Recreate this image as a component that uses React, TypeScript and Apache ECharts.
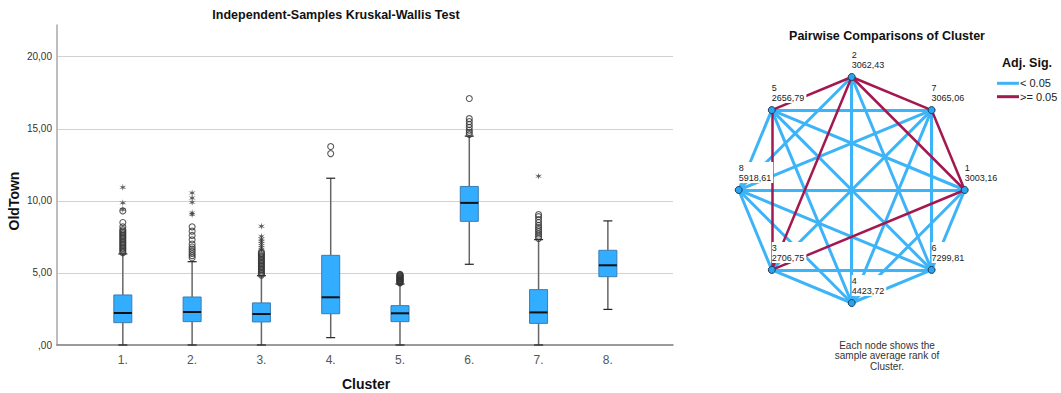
import React, { useEffect, useRef } from "react";
import * as echarts from "echarts";

// ---------- Left chart data (Independent-Samples Kruskal-Wallis Test) ----------
const clusters = ["1", "2", "3", "4", "5", "6", "7", "8"];
const boxMin = [0, 0, 0, 0.51, 0, 5.6, 0, 2.47];
const boxQ1 = [1.55, 1.62, 1.6, 2.17, 1.62, 8.58, 1.5, 4.74];
const boxMedian = [2.22, 2.29, 2.15, 3.31, 2.2, 9.86, 2.26, 5.53];
const boxQ3 = [3.47, 3.33, 2.92, 6.22, 2.73, 11.0, 3.84, 6.57];
const boxMax = [6.32, 5.78, 4.81, 11.57, 4.23, 14.49, 7.31, 8.61];

// outliers (circles) per cluster
const circleOutliers: number[][] = [
  [6.4, 6.5, 6.6, 6.7, 6.8, 6.9, 7.0, 7.1, 7.2, 7.3, 7.4, 7.5, 7.6, 7.7, 7.8, 7.9, 8.0, 8.2, 8.5, 9.3],
  [6.05, 6.2, 6.35, 6.5, 6.65, 6.8, 7.0, 7.3, 7.6, 7.9, 8.2],
  [4.85, 4.95, 5.05, 5.15, 5.25, 5.35, 5.45, 5.55, 5.65, 5.75, 5.85, 5.95, 6.05, 6.15, 6.25, 6.35, 6.45],
  [13.28, 13.77],
  [4.3, 4.34, 4.38, 4.42, 4.46, 4.5, 4.54, 4.58, 4.62, 4.66, 4.7, 4.74, 4.78, 4.82, 4.86, 4.9],
  [14.6, 14.75, 14.9, 15.1, 15.3, 15.5, 15.7, 17.1],
  [7.4, 7.55, 7.7, 7.85, 8.0, 8.15, 8.3, 8.5, 8.7, 8.9, 9.05],
  [],
];
// extreme outliers (stars) per cluster
const starOutliers: number[][] = [
  [9.4, 9.86, 10.94],
  [9.05, 9.17, 9.9, 10.2, 10.55],
  [6.6, 6.75, 6.9, 7.05, 7.2, 7.35, 7.54, 8.24],
  [],
  [],
  [],
  [11.71],
  [],
];
const yTicks = [0, 5, 10, 15, 20];

// ---------- Right chart data (Pairwise Comparisons of Cluster) ----------
const nodeOrder = ["2", "7", "1", "6", "4", "3", "8", "5"]; // clockwise from top
const nodeNames = ["1", "2", "3", "4", "5", "6", "7", "8"];
const averageRanks = [3003.16, 3062.43, 2706.75, 4423.72, 2656.79, 7299.81, 3065.06, 5918.61];
const nonSignificantPairs: [string, string][] = [
  ["2", "5"],
  ["2", "7"],
  ["2", "1"],
  ["2", "3"],
  ["7", "1"],
  ["5", "3"],
  ["1", "3"],
];

const FONT = "'Liberation Sans', Arial, sans-serif";
const BOX_FILL = "#33adff";
const BOX_BORDER = "#3b7cb0";
const BLUE = "#3db3f8";
const RED = "#a3184f";

const fmtComma = (v: number) => v.toFixed(2).replace(".", ",");
const fmtTick = (v: number) => fmtComma(v).replace(/^0,/, ",");

const STAR_PATH =
  "path://M5,0 L5.75,3.7 L9.33,2.5 L6.5,5 L9.33,7.5 L5.75,6.3 L5,10 L4.25,6.3 L0.67,7.5 L3.5,5 L0.67,2.5 L4.25,3.7 Z";

export default function App() {
  const ref = useRef<HTMLDivElement>(null);

  useEffect(() => {
    if (!ref.current) return;
    const chart = echarts.init(ref.current, undefined, { renderer: "svg" });

    const boxData = clusters.map((c, i) => [i + 1, boxMin[i], boxQ1[i], boxMedian[i], boxQ3[i], boxMax[i]]);
    const circleData: number[][] = [];
    circleOutliers.forEach((arr, i) => arr.forEach((v) => circleData.push([i + 1, v])));
    const starData: number[][] = [];
    starOutliers.forEach((arr, i) => arr.forEach((v) => starData.push([i + 1, v])));

    const isNonSig = (a: string, b: string) =>
      nonSignificantPairs.some(([p, q]) => (p === a && q === b) || (p === b && q === a));
    const blueLinks: any[] = [];
    const redLinks: any[] = [];
    for (let i = 0; i < nodeNames.length; i++) {
      for (let j = i + 1; j < nodeNames.length; j++) {
        const a = nodeNames[i];
        const b = nodeNames[j];
        if (isNonSig(a, b)) {
          redLinks.push({ source: a, target: b, lineStyle: { color: RED, width: 2.5 } });
        } else {
          blueLinks.push({ source: a, target: b, lineStyle: { color: BLUE, width: 3 } });
        }
      }
    }
    const nodes = nodeNames.map((n, i) => ({
      name: n,
      value: [1, nodeOrder.indexOf(n)],
      rank: averageRanks[i],
    }));

    const option: any = {
      animation: false,
      textStyle: { fontFamily: FONT },
      grid: { left: 57, right: 388, top: 25, bottom: 48, containLabel: false },
      xAxis: {
        type: "value",
        min: 0.05,
        max: 8.94,
        axisLine: { show: true, lineStyle: { color: "#7a7a7a", width: 1.5 } },
        axisTick: { show: false },
        splitLine: { show: false },
        axisLabel: {
          customValues: clusters.map((c, i) => i + 1),
          formatter: (v: number) => `${clusters[Math.round(v) - 1]}.`,
          color: "#555",
          fontSize: 12,
          margin: 9,
          fontFamily: FONT,
        },
      },
      yAxis: {
        type: "value",
        min: 0,
        max: 22.2,
        interval: 5,
        axisLine: { show: true, lineStyle: { color: "#a8a8a8", width: 1.5 } },
        axisTick: { show: false },
        splitLine: { show: true, showMaxLine: false, showMinLine: false, lineStyle: { color: "#d2d2d2", width: 1 } },
        axisLabel: {
          showMaxLabel: false,
          formatter: (v: number) => (yTicks.includes(v) ? fmtTick(v) : ""),
          color: "#333",
          fontSize: 10,
          margin: 5,
          fontFamily: FONT,
        },
      },
      polar: { center: [851.7, 190], radius: 113 },
      angleAxis: { type: "value", min: 0, max: 8, startAngle: 90, clockwise: true, show: false },
      radiusAxis: { type: "value", min: 0, max: 1, show: false },
      series: [
        {
          type: "custom",
          xAxisIndex: 0,
          yAxisIndex: 0,
          encode: { x: 0, y: [1, 2, 3, 4, 5] },
          data: boxData,
          z: 2,
          renderItem: (params: any, api: any) => {
            const x = api.value(0);
            const lo = api.coord([x, api.value(1)]);
            const q1 = api.coord([x, api.value(2)]);
            const md = api.coord([x, api.value(3)]);
            const q3 = api.coord([x, api.value(4)]);
            const hi = api.coord([x, api.value(5)]);
            const bw = 18;
            const cap = 4.5;
            const cx = q1[0];
            const wStyle = { stroke: "#666", lineWidth: 1.5 };
            const cStyle = { stroke: "#222", lineWidth: 1.2 };
            return {
              type: "group",
              children: [
                { type: "line", shape: { x1: cx, y1: lo[1], x2: cx, y2: q1[1] }, style: wStyle },
                { type: "line", shape: { x1: cx, y1: q3[1], x2: cx, y2: hi[1] }, style: wStyle },
                { type: "line", shape: { x1: cx - cap, y1: lo[1], x2: cx + cap, y2: lo[1] }, style: cStyle },
                { type: "line", shape: { x1: cx - cap, y1: hi[1], x2: cx + cap, y2: hi[1] }, style: cStyle },
                {
                  type: "rect",
                  shape: { x: cx - bw / 2, y: q3[1], width: bw, height: q1[1] - q3[1] },
                  style: { fill: BOX_FILL, stroke: BOX_BORDER, lineWidth: 1 },
                },
                {
                  type: "line",
                  shape: { x1: cx - bw / 2, y1: md[1], x2: cx + bw / 2, y2: md[1] },
                  style: { stroke: "#111", lineWidth: 2 },
                },
              ],
            };
          },
        },
        {
          type: "scatter",
          xAxisIndex: 0,
          yAxisIndex: 0,
          data: circleData,
          symbol: "circle",
          symbolSize: 6,
          itemStyle: { color: "rgba(255,255,255,0)", borderColor: "#333", borderWidth: 1.1 },
          z: 3,
          silent: true,
        },
        {
          type: "scatter",
          xAxisIndex: 0,
          yAxisIndex: 0,
          data: starData,
          symbol: STAR_PATH,
          symbolSize: 7,
          itemStyle: { color: "#333" },
          z: 3,
          silent: true,
        },
        {
          type: "graph",
          coordinateSystem: "polar",
          polarIndex: 0,
          layout: "none",
          symbol: "circle",
          symbolSize: 7,
          itemStyle: { color: "#2aa3f0", borderColor: "#1d3c5a", borderWidth: 1 },
          label: {
            show: true,
            position: "top",
            align: "left",
            distance: 3,
            fontSize: 9,
            lineHeight: 10,
            color: "#222",
            backgroundColor: "#fff",
            padding: [1, 2, 0, 0],
            fontFamily: FONT,
            formatter: (p: any) => `${p.name}\n${fmtComma(p.data.rank)}`,
          },
          edgeSymbol: ["none", "none"],
          lineStyle: { opacity: 1, curveness: 0 },
          emphasis: { disabled: true },
          silent: true,
          data: nodes,
          links: [...blueLinks, ...redLinks],
          z: 3,
        },
      ],
      graphic: [
        {
          type: "text",
          x: 336,
          y: 15,
          style: {
            text: "Independent-Samples Kruskal-Wallis Test",
            font: `bold 12.5px ${FONT}`,
            fill: "#111",
            align: "center",
            verticalAlign: "middle",
          },
        },
        {
          type: "text",
          x: 14,
          y: 201,
          rotation: Math.PI / 2,
          style: {
            text: "OldTown",
            font: `bold 14px ${FONT}`,
            fill: "#111",
            align: "center",
            verticalAlign: "middle",
          },
        },
        {
          type: "text",
          x: 366,
          y: 384,
          style: {
            text: "Cluster",
            font: `bold 14px ${FONT}`,
            fill: "#111",
            align: "center",
            verticalAlign: "middle",
          },
        },
        {
          type: "text",
          x: 887,
          y: 36,
          style: {
            text: "Pairwise Comparisons of Cluster",
            font: `bold 12.5px ${FONT}`,
            fill: "#111",
            align: "center",
            verticalAlign: "middle",
          },
        },
        {
          type: "text",
          x: 1002,
          y: 63,
          style: {
            text: "Adj. Sig.",
            font: `bold 12.5px ${FONT}`,
            fill: "#111",
            align: "left",
            verticalAlign: "middle",
          },
        },
        { type: "line", shape: { x1: 997, y1: 83.3, x2: 1019, y2: 83.3 }, style: { stroke: BLUE, lineWidth: 3 } },
        {
          type: "text",
          x: 1020,
          y: 83.3,
          style: { text: "< 0.05", font: `11px ${FONT}`, fill: "#222", align: "left", verticalAlign: "middle" },
        },
        { type: "line", shape: { x1: 997, y1: 96.7, x2: 1019, y2: 96.7 }, style: { stroke: RED, lineWidth: 3 } },
        {
          type: "text",
          x: 1020,
          y: 96.7,
          style: { text: ">= 0.05", font: `11px ${FONT}`, fill: "#222", align: "left", verticalAlign: "middle" },
        },
        {
          type: "text",
          x: 887,
          y: 355.5,
          style: {
            text: "Each node shows the\nsample average rank of\nCluster.",
            font: `10px ${FONT}`,
            lineHeight: 10.5,
            fill: "#333",
            align: "center",
            verticalAlign: "middle",
          },
        },
      ],
    };

    chart.setOption(option);
    return () => chart.dispose();
  }, []);

  return (
    <div
      ref={ref}
      style={{ position: "absolute", left: 0, top: 0, width: 1061, height: 393, background: "#fff" }}
    />
  );
}
